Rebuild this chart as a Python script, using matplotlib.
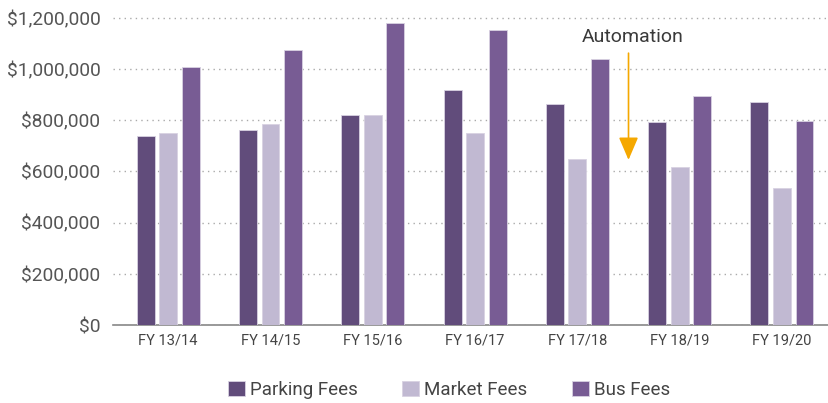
import numpy as np
import matplotlib.pyplot as plt
from matplotlib.ticker import FuncFormatter

plt.rcParams['font.family'] = ['Roboto', 'DejaVu Sans']

# data
years = ['FY 13/14', 'FY 14/15', 'FY 15/16', 'FY 16/17', 'FY 17/18', 'FY 18/19', 'FY 19/20']
parking = [739000, 761000, 820000, 917000, 862000, 792000, 870000]
market = [752000, 787000, 820000, 750000, 650000, 616000, 536000]
bus = [1009000, 1075000, 1179000, 1152000, 1041000, 893000, 797000]

series = [('Parking Fees', parking, '#614C7B'),
          ('Market Fees', market, '#C1B9D2'),
          ('Bus Fees', bus, '#785C94')]

fig = plt.figure(figsize=(8.29, 4.03), dpi=100)
ax = fig.add_axes([0.1363, 0.1935, 0.8637, 0.794])

x = np.arange(len(years))
w = 0.175
step = 0.22
for i, (name, vals, col) in enumerate(series):
    ax.bar(x + (i - 1) * step, vals, w, color=col, label=name,
           edgecolor='#D8D2E2', linewidth=0.6, zorder=3)

ax.set_xlim(-0.54, 6.46)
ax.set_ylim(0, 1250000)
ax.set_yticks(np.arange(0, 1200001, 200000))
ax.yaxis.set_major_formatter(FuncFormatter(lambda v, p: '${:,.0f}'.format(v)))
ax.set_xticks(x)
ax.set_xticklabels(years)

ax.grid(axis='y', linestyle=(0, (1, 3)), color='#AAAAAA', linewidth=1, zorder=0)
for s in ['top', 'right', 'left']:
    ax.spines[s].set_visible(False)
ax.spines['bottom'].set_color('#888888')
ax.spines['bottom'].set_linewidth(1.2)
ax.tick_params(axis='both', length=0)
ax.tick_params(axis='y', labelsize=13.8, labelcolor='#555555', pad=9)
ax.tick_params(axis='x', labelsize=10.5, labelcolor='#444444', pad=6)

# automation marker
ax.annotate('', xy=(4.5, 645000), xytext=(4.5, 1062000),
            arrowprops=dict(arrowstyle='-|>,head_length=0.7,head_width=0.3',
                            color='#F5A800', lw=1.2,
                            mutation_scale=20, shrinkA=0, shrinkB=0))
ax.text(4.54, 1125000, 'Automation', ha='center', va='center',
        fontsize=14, color='#3A3A3A')

fig.legend(loc='center', bbox_to_anchor=(449 / 829, 1 - 390 / 403), ncol=3,
           frameon=False, fontsize=13.5, handlelength=0.9, handleheight=0.9,
           handletextpad=0.25, columnspacing=2.4, labelcolor='#444444')

fig.savefig('out.png', dpi=100)
